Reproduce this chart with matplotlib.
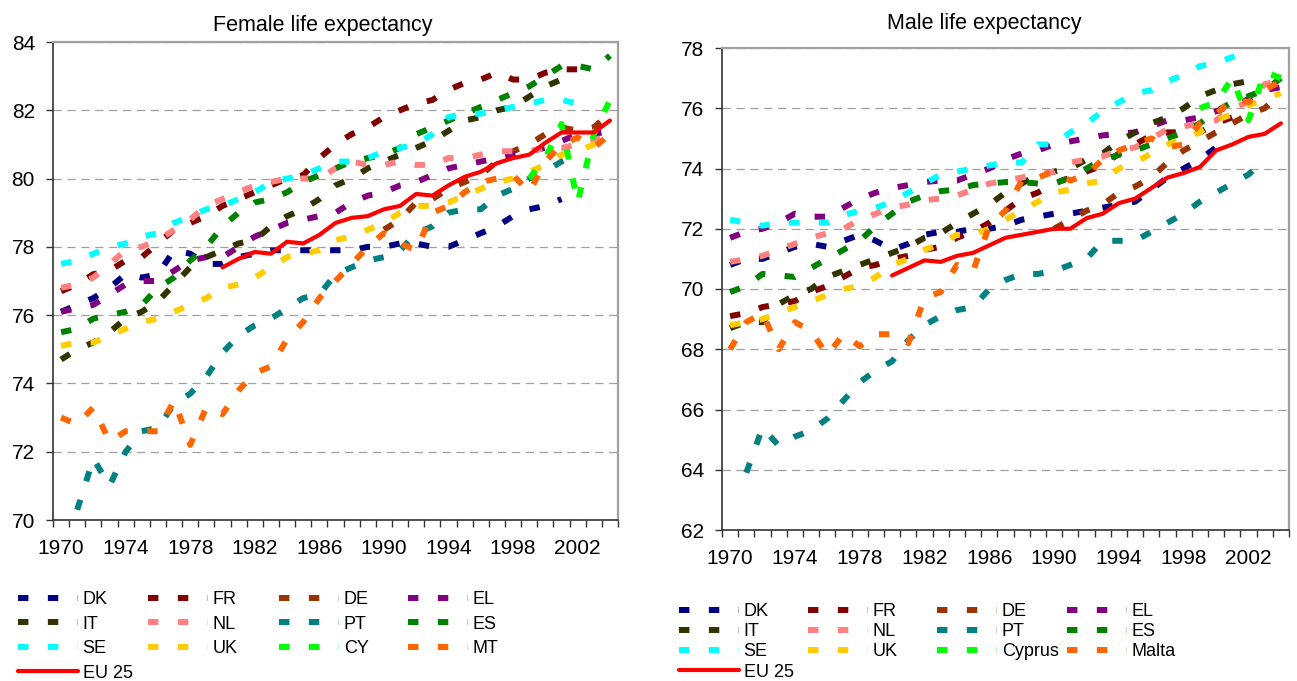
import matplotlib

matplotlib.use("Agg")
import matplotlib.pyplot as plt
import numpy as np

plt.rcParams['font.family'] = ['Liberation Sans', 'DejaVu Sans']
plt.rcParams['lines.scale_dashes'] = False

W, H = 1297, 681

# -----------------------------
#   DATA
# -----------------------------
years = np.arange(1970, 2005)
codes_f = ["DK", "FR", "DE", "EL", "IT", "NL", "PT", "ES", "SE", "UK", "CY", "MT"]
codes_m = ["DK", "FR", "DE", "EL", "IT", "NL", "PT", "ES", "SE", "UK", "Cyprus", "Malta"]

# Female life expectancy, 1970-2004 (None = no data)
f_dk = [76.1, 76.3, 76.5, 76.8, 77.2, 77.1, 77.2, 77.9, 77.8, 77.5,
        77.5, 77.7, 77.8, 77.9, 77.9, 77.9, 77.9, 77.9, 77.9, 78.0,
        78.0, 78.1, 78.1, 78.0, 78.0, 78.2, 78.4, 78.6, 78.9, 79.1,
        79.2, 79.4, None, None, None]
f_fr = [76.7, 76.9, 77.2, 77.3, 77.6, 77.7, 78.1, 78.5, 78.7, 78.9,
        79.2, 79.4, 79.6, 79.8, 80.0, 80.1, 80.6, 81.0, 81.3, 81.5,
        81.8, 82.0, 82.2, 82.3, 82.6, 82.8, 82.9, 83.1, 82.9, 82.9,
        83.1, 83.2, 83.2, None, None]
f_de = [None] * 20 + [78.5, 78.8, 79.3, 79.4, 79.7, 79.9, 80.1, 80.5, 80.8, 81.0,
                      81.3, 81.5, 81.4, 81.5, 81.9]
f_el = [76.1, 76.2, 76.3, 76.6, 76.9, 77.0, 77.0, 77.3, 77.6, 77.7,
        77.7, 78.0, 78.3, 78.5, 78.7, 78.8, 78.9, 79.0, 79.3, 79.5,
        79.6, 79.8, 79.9, 80.1, 80.3, 80.4, 80.5, 80.6, 80.7, 80.8,
        80.9, 81.1, 81.3, 81.3, 81.4]
f_it = [74.7, 75.0, 75.2, 75.5, 75.9, 76.1, 76.4, 76.9, 77.4, 77.7,
        77.9, 78.1, 78.2, 78.6, 78.9, 79.1, 79.4, 79.8, 80.0, 80.3,
        80.5, 80.7, 80.9, 81.1, 81.4, 81.7, 81.8, 82.0, 82.1, 82.4,
        82.7, 82.9, 83.0, None, None]
f_nl = [76.8, 76.9, 77.1, 77.5, 77.9, 78.0, 78.2, 78.5, 78.8, 79.2,
        79.4, 79.6, 79.8, 79.9, 80.0, 80.0, 80.0, 80.3, 80.5, 80.4,
        80.4, 80.5, 80.4, 80.4, 80.6, 80.6, 80.7, 80.8, 80.8, 80.8,
        80.9, 80.9, 81.0, 81.1, 81.3]
f_pt = [None, 70.3, 71.8, 71.0, 72.0, 72.6, 72.7, 73.4, 73.7, 74.2,
        74.9, 75.4, 75.7, 75.9, 76.2, 76.5, 76.6, 77.2, 77.4, 77.6,
        77.7, 77.9, 78.4, 78.6, 79.0, 79.1, 79.1, 79.5, 79.7, 80.0,
        80.2, 80.5, 80.7, None, None]
f_es = [75.5, 75.6, 75.9, 76.0, 76.1, 76.3, 76.8, 77.1, 77.6, 78.0,
        78.6, 79.0, 79.3, 79.4, 79.6, 79.9, 80.1, 80.3, 80.5, 80.6,
        80.7, 80.9, 81.3, 81.5, 81.7, 81.9, 82.1, 82.3, 82.5, 82.7,
        83.0, 83.3, 83.3, 83.2, 83.6]
f_se = [77.5, 77.6, 77.8, 78.0, 78.1, 78.3, 78.4, 78.7, 78.9, 79.1,
        79.2, 79.4, 79.6, 79.9, 80.0, 80.1, 80.3, 80.5, 80.5, 80.6,
        80.8, 80.9, 81.0, 81.3, 81.8, 81.9, 81.9, 82.0, 82.1, 82.2,
        82.3, 82.3, 82.2, None, None]
f_uk = [75.1, 75.2, 75.2, 75.4, 75.6, 75.8, 75.9, 76.1, 76.3, 76.5,
        76.8, 76.9, 77.1, 77.4, 77.7, 77.8, 77.9, 78.2, 78.3, 78.5,
        78.7, 79.0, 79.2, 79.2, 79.3, 79.5, 79.7, 79.9, 80.0, 80.2,
        80.4, 80.7, 80.8, 81.0, 81.1]
f_cy = [None] * 29 + [80.0, 80.6, 81.6, 79.3, 81.3, 82.3]
f_mt = [73.0, 72.8, 73.3, 72.3, 72.6, 72.6, 72.6, 73.5, 72.2, 73.3,
        73.1, 73.8, 74.3, 74.5, 75.3, 75.8, 76.5, 77.0, 77.5, 78.0,
        78.4, 78.1, 77.9, 79.0, 79.2, 79.6, 79.9, 80.0, 80.1, 79.6,
        80.5, 81.0, 81.2, 80.9, 81.3]
f_eu = [None] * 10 + [77.4, 77.65, 77.85, 77.8, 78.15, 78.1, 78.35, 78.7, 78.85, 78.9,
                      79.1, 79.2, 79.55, 79.5, 79.8, 80.05, 80.2, 80.45, 80.6, 80.7,
                      81.05, 81.35, 81.35, 81.35, 81.7]

# Male life expectancy, 1970-2004
m_dk = [70.8, 71.0, 71.0, 71.2, 71.4, 71.5, 71.4, 71.6, 71.8, 71.6,
        71.3, 71.5, 71.8, 71.9, 71.9, 72.0, 72.0, 72.1, 72.3, 72.4,
        72.5, 72.5, 72.6, 72.7, 72.8, 72.9, 73.3, 73.7, 74.0, 74.3,
        74.7, 75.0, None, None, None]
m_fr = [69.1, 69.2, 69.4, 69.5, 69.6, 69.9, 70.1, 70.4, 70.7, 70.8,
        71.0, 71.1, 71.3, 71.4, 71.7, 71.9, 72.2, 72.6, 73.0, 73.2,
        73.5, 73.7, 73.9, 74.1, 74.5, 74.8, 75.1, 75.2, 75.2, 75.2,
        75.5, 75.7, 75.8, None, None]
m_de = [None] * 20 + [72.0, 72.3, 72.6, 72.8, 73.2, 73.4, 73.7, 74.2, 74.6, 74.9,
                      75.2, 75.5, 75.8, 76.0, 76.5]
m_el = [71.7, 71.9, 72.0, 72.2, 72.5, 72.4, 72.4, 72.7, 73.0, 73.2,
        73.35, 73.45, 73.55, 73.6, 73.6, 73.8, 74.0, 74.3, 74.5, 74.6,
        74.8, 74.9, 75.0, 75.1, 75.15, 75.2, 75.4, 75.6, 75.6, 75.7,
        75.9, 76.1, 76.3, 76.6, 76.7]
m_it = [68.7, 68.9, 68.9, 69.5, 69.8, 70.0, 70.4, 70.6, 70.8, 71.0,
        71.2, 71.4, 71.7, 71.85, 72.2, 72.5, 72.8, 73.2, 73.5, 73.8,
        73.9, 74.0, 74.3, 74.5, 74.9, 75.2, 75.5, 75.7, 76.0, 76.4,
        76.6, 76.8, 76.9, None, None]
m_nl = [70.9, 71.0, 71.1, 71.3, 71.5, 71.7, 71.85, 72.0, 72.3, 72.5,
        72.7, 72.8, 72.95, 73.0, 73.1, 73.3, 73.5, 73.6, 73.7, 73.8,
        73.9, 74.2, 74.3, 74.4, 74.6, 74.7, 75.0, 75.3, 75.4, 75.5,
        75.6, 76.0, 76.2, 76.8, 76.9]
m_pt = [None, 63.9, 65.4, 64.8, 65.1, 65.3, 65.7, 66.3, 66.9, 67.3,
        67.6, 68.3, 68.8, 69.1, 69.3, 69.4, 70.0, 70.3, 70.5, 70.5,
        70.6, 70.8, 71.0, 71.6, 71.6, 71.6, 71.9, 72.2, 72.5, 72.9,
        73.2, 73.5, 73.8, 74.3, None]
m_es = [69.9, 70.1, 70.5, 70.45, 70.4, 70.7, 71.0, 71.3, 71.6, 72.1,
        72.5, 72.9, 73.1, 73.25, 73.3, 73.45, 73.5, 73.55, 73.55, 73.5,
        73.5, 73.7, 74.0, 74.3, 74.45, 74.6, 74.8, 75.0, 75.2, 75.5,
        75.9, 76.2, 76.4, 76.6, 77.0]
m_se = [72.3, 72.2, 72.1, 72.2, 72.2, 72.2, 72.2, 72.45, 72.6, 72.7,
        72.9, 73.2, 73.5, 73.8, 73.9, 74.0, 74.1, 74.2, 74.2, 74.8,
        74.8, 75.2, 75.5, 75.9, 76.2, 76.5, 76.6, 76.9, 77.1, 77.4,
        77.5, 77.7, 77.9, None, None]
m_uk = [68.8, 68.9, 69.0, 69.2, 69.4, 69.6, 69.8, 70.0, 70.1, 70.4,
        70.8, 71.0, 71.3, 71.5, 71.8, 71.8, 72.0, 72.3, 72.6, 72.9,
        73.2, 73.3, 73.5, 73.6, 74.0, 74.2, 74.5, 74.8, 75.0, 75.2,
        75.6, 75.8, 76.1, 76.3, 76.5]
m_cy = [None] * 29 + [76.0, 76.2, 77.0, 75.6, 77.2, 77.0]
m_mt = [68.0, 68.9, 69.2, 68.0, 68.9, 68.6, 67.8, 68.5, 68.1, 68.5,
        68.5, 68.2, 69.7, 69.9, 70.8, 70.6, 72.1, 72.6, 73.6, 73.7,
        73.9, 73.6, 73.8, 74.3, 74.6, 74.8, 75.0, 74.7, 74.8, 75.5,
        75.8, 76.3, 76.2, 76.6, 76.9]
m_eu = [None] * 10 + [70.45, 70.7, 70.95, 70.9, 71.1, 71.2, 71.45, 71.7, 71.8, 71.9,
                      72.0, 72.0, 72.35, 72.5, 72.85, 73.0, 73.35, 73.7, 73.85, 74.05,
                      74.6, 74.8, 75.05, 75.15, 75.5]

female = [f_dk, f_fr, f_de, f_el, f_it, f_nl, f_pt, f_es, f_se, f_uk, f_cy, f_mt]
male = [m_dk, m_fr, m_de, m_el, m_it, m_nl, m_pt, m_es, m_se, m_uk, m_cy, m_mt]

colors = ["#000080", "#800000", "#993300", "#800080", "#333300", "#FF8080",
          "#008080", "#008000", "#00FFFF", "#FFCC00", "#00FF00", "#FF6600"]


def draw_panel(ax, data, eu, ymin, ymax):
    handles = []
    for vals, col in zip(data, colors):
        h, = ax.plot(years, np.array(vals, dtype=float), color=col, lw=4.3,
                     ls=(0, (7.5, 14)), dash_capstyle="butt")
        handles.append(h)
    h_eu, = ax.plot(years, np.array(eu, dtype=float), color="#FF0000", lw=3,
                    solid_capstyle="round", solid_joinstyle="round")
    ax.set_xlim(1969.5, 2004.5)
    ax.set_ylim(ymin, ymax)
    ax.set_yticks(np.arange(ymin, ymax + 1, 2))
    ax.set_xticks(years[::4])
    ax.set_xticks(np.arange(1969.5, 2005), minor=True)
    ax.tick_params(axis="x", which="major", length=0, pad=14, labelsize=15)
    ax.tick_params(axis="x", which="minor", length=5, width=1, color="#333333")
    ax.tick_params(axis="y", length=5, width=1, pad=8, labelsize=15, color="#333333")
    ax.yaxis.grid(True, color="#A0A0A0", ls=(0, (6, 4)), lw=0.9)
    ax.set_axisbelow(True)
    for s in ["left", "bottom"]:
        ax.spines[s].set_color("#333333")
        ax.spines[s].set_linewidth(1.2)
    for s in ["top", "right"]:
        ax.spines[s].set_color("#A0A0A0")
        ax.spines[s].set_linewidth(1.6)
    return handles, h_eu


def add_legend(fig, handles, labels, h_eu, xs, ytop, spacing):
    for j in range(4):
        hs = [handles[j], handles[j + 4], handles[j + 8]]
        ls = [labels[j], labels[j + 4], labels[j + 8]]
        if j == 0:
            hs.append(h_eu)
            ls.append("EU 25")
        fig.legend(hs, ls, loc="upper left", bbox_to_anchor=(xs[j] / W, 1 - ytop / H),
                   frameon=False, borderpad=0, borderaxespad=0, handlelength=3.3,
                   handletextpad=0.28, labelspacing=spacing, fontsize=13)


fig = plt.figure(figsize=(W / 100, H / 100), dpi=100)
ax1 = fig.add_axes([53 / W, 1 - 520 / H, 565 / W, 478 / H])
ax2 = fig.add_axes([722 / W, 1 - 530 / H, 567 / W, 482 / H])

hf, hf_eu = draw_panel(ax1, female, f_eu, 70, 84)
hm, hm_eu = draw_panel(ax2, male, m_eu, 62, 78)

fig.text(323 / W, 1 - 25 / H, "Female life expectancy", ha="center", va="center", fontsize=15.5)
fig.text(984 / W, 1 - 23 / H, "Male life expectancy", ha="center", va="center", fontsize=15.5)

add_legend(fig, hf, codes_f, hf_eu, [18, 148, 279, 408], 591, 0.42)
add_legend(fig, hm, codes_m, hm_eu, [679, 808, 937, 1067], 603, 0.18)

plt.savefig("out.png", dpi=100)
